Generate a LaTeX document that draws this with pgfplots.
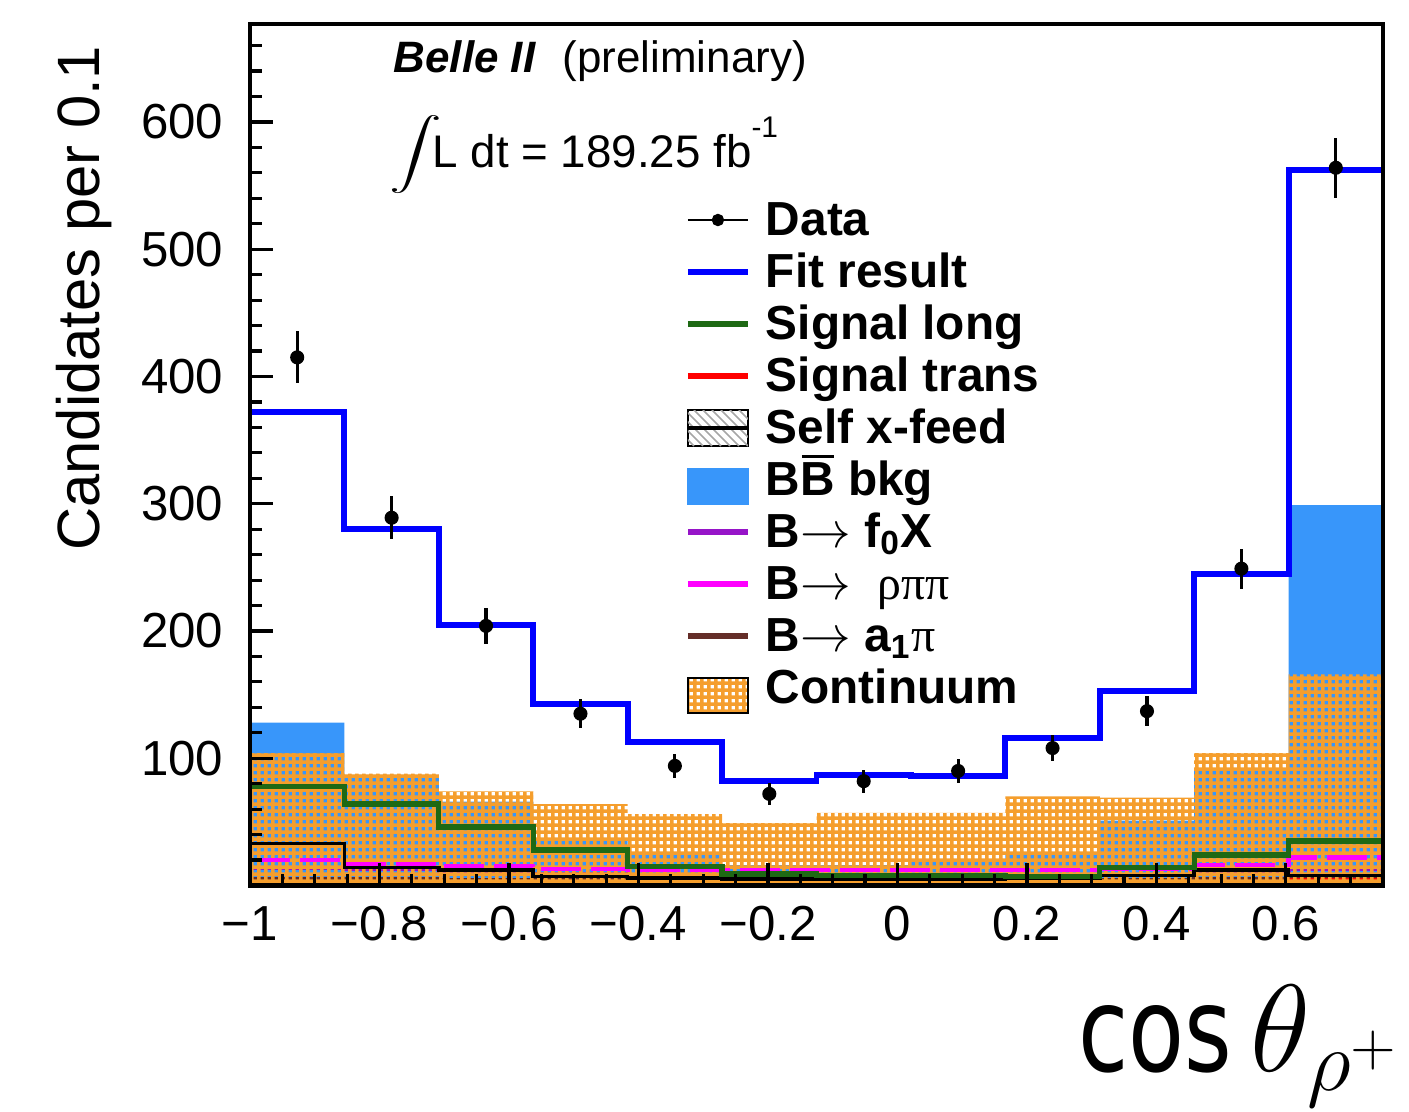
\documentclass[border=0pt]{standalone}
\usepackage{fontspec}
\setmainfont{Liberation Sans}
\newfontfamily\labelfont{DejaVu Sans}
\newfontfamily\greekfont{Liberation Serif}
\usepackage{graphicx}
\usepackage{pgfplots}
\usepackage{pgfplotstable}
\pgfplotsset{compat=1.18}
\usetikzlibrary{patterns}

\definecolor{fitblue}{RGB}{0,0,255}
\definecolor{bbblue}{RGB}{56,150,250}
\definecolor{contorange}{RGB}{245,158,45}
\definecolor{siggreen}{RGB}{30,105,20}
\definecolor{sigred}{RGB}{255,0,0}
\definecolor{fzeroviolet}{RGB}{150,20,200}
\definecolor{rhomagenta}{RGB}{255,0,255}
\definecolor{aonebrown}{RGB}{100,45,40}

% orange mesh with small square holes, used for the continuum component
\pgfdeclarepatternformonly{contmesh}{\pgfpointorigin}{\pgfqpoint{2.1pt}{2.1pt}}{\pgfqpoint{2.1pt}{2.1pt}}{%
  \pgfpathrectangle{\pgfpointorigin}{\pgfqpoint{2.1pt}{1.1pt}}%
  \pgfpathrectangle{\pgfqpoint{0pt}{1.1pt}}{\pgfqpoint{1.1pt}{1.0pt}}%
  \pgfusepath{fill}}

% histogram contents, one row per lower bin edge (last row closes the last bin)
\pgfplotstableread{
xlo       fit  cont  bb   siglong sigtrans xfeed f0x rhopipi a1pi
-1.000000 372  104   128  78      3        33    14  20      5
-0.854167 280  88    87   64      3        14    13  17      5
-0.708333 205  74    66   46      2        12    11  15      4
-0.562500 143  64    37   28      2        7     9   13      4
-0.416667 113  56    24   15      2        6     8   12      4
-0.270833 82   49    16   9       2        5     7   12      4
-0.125000 87   57    16   8       2        5     7   12      4
0.020833  86   57    19   8       2        5     7   12      4
0.166667  116  70    26   7       2        6     7   12      4
0.312500  153  69    51   14      2        8     8   13      4
0.458333  245  104   91   24      3        12    10  16      5
0.604167  562  166   299  35      4        8     13  22      6
0.750000  562  166   299  35      4        8     13  22      6
}\histo

% data counts at bin centres with Poisson errors
\pgfplotstableread{
x         n    e
-0.927083 415  20.4
-0.781250 289  17.0
-0.635417 204  14.3
-0.489583 135  11.6
-0.343750 94   9.7
-0.197917 72   8.5
-0.052083 82   9.1
0.093750  90   9.5
0.239583  108  10.4
0.385417  137  11.7
0.531250  249  15.8
0.677083  564  23.7
}\datapts

% B with a bar over it, bar drawn as a rule
\newcommand{\Bbar}{\makebox[0pt][l]{\hspace{0.4pt}\rule[3.75mm]{9.2pt}{0.25mm}}B}

\begin{document}
\begin{tikzpicture}
\useasboundingbox (0,0) rectangle (140.9mm,111.1mm);
\begin{axis}[
  at={(25.0mm,22.55mm)}, anchor=south west,
  scale only axis, width=113.3mm, height=86.15mm,
  xmin=-1, xmax=0.75, ymin=0, ymax=677,
  axis on top,
  axis line style={line width=1.3pt},
  xtick={-1,-0.8,-0.6,-0.4,-0.2,0,0.2,0.4,0.6},
  xticklabels={−1,−0.8,−0.6,−0.4,−0.2,0,0.2,0.4,0.6},
  minor xtick={-0.95,-0.9,-0.85,-0.75,-0.7,-0.65,-0.55,-0.5,-0.45,-0.35,-0.3,-0.25,-0.15,-0.1,-0.05,0.05,0.1,0.15,0.25,0.3,0.35,0.45,0.5,0.55,0.65,0.7},
  ytick={100,200,300,400,500,600},
  yticklabels={100,200,300,400,500,600},
  minor ytick={20,40,60,80,120,140,160,180,220,240,260,280,320,340,360,380,420,440,460,480,520,540,560,580,620,640,660},
  tick align=inside,
  xtick pos=bottom, ytick pos=left,
  major tick length=2.3mm, minor tick length=1.2mm,
  every tick/.style={black, line width=0.9pt},
  tick label style={font=\fontsize{14}{14}\selectfont},
  xticklabel style={inner sep=0pt, yshift=-2.0mm},
  yticklabel style={inner sep=0pt, xshift=-2.6mm},
  ylabel={Candidates per 0.1},
  ylabel style={font=\fontsize{17}{17}\selectfont, inner sep=0pt,
    at={(axis description cs:-0.1465,0.9756)}, anchor=east},
  xlabel={\resizebox{15.4mm}{6.6mm}{\labelfont cos}\hspace{1.8mm}\scalebox{1.42}{\fontsize{24}{24}\selectfont$\theta_{\rho^{+}}$}},
  xlabel style={inner sep=0pt,
    at={(axis description cs:1,0)}, anchor=base east, xshift=1.9mm, yshift=-18.6mm},
  legend style={
    at={(axis description cs:0.3839,0.798)}, anchor=north west,
    draw=none, fill=none, inner sep=0pt, outer sep=0pt, row sep=0pt,
    font=\fontsize{13.6}{13.6}\selectfont\bfseries,
    nodes={inner sep=0pt, text height=3.7mm, text depth=1.5mm},
    cells={anchor=base west},
    /tikz/every odd column/.append style={column sep=1.5mm},
  },
]
% B Bbar background, solid fill
\addplot[const plot, fill=bbblue, draw=none, forget plot] table[x=xlo, y=bb] {\histo} \closedcycle;
% small peaking components drawn beneath the continuum mesh
\addplot[const plot, aonebrown, line width=1.2pt, forget plot] table[x=xlo, y=a1pi] {\histo};
\addplot[const plot, sigred, line width=1.2pt, forget plot] table[x=xlo, y=sigtrans] {\histo};
\addplot[const plot, fzeroviolet, line width=1.2pt, forget plot] table[x=xlo, y=f0x] {\histo};
% continuum, orange mesh
\addplot[const plot, draw=none, pattern=contmesh, pattern color=contorange, forget plot] table[x=xlo, y=cont] {\histo} \closedcycle;
\addplot[const plot, rhomagenta, line width=1.2pt, dash pattern=on 4mm off 1mm, forget plot] table[x=xlo, y=rhopipi] {\histo};
\addplot[const plot, black, line width=1.0pt, forget plot] table[x=xlo, y=xfeed] {\histo};
\addplot[const plot, siggreen, line width=1.5pt, forget plot] table[x=xlo, y=siglong] {\histo};
% total fit
\addplot[const plot, fitblue, line width=1.7pt, forget plot] table[x=xlo, y=fit] {\histo};
% data
\addplot[only marks, mark=*, mark size=1.8pt, black, forget plot,
  error bars/.cd, y dir=both, y explicit, error mark=none,
  error bar style={line width=0.9pt, black}]
  table[x=x, y=n, y error=e] {\datapts};

\addlegendimage{legend image code/.code={
  \draw[black, line width=0.8pt] (0mm,1.5mm) -- (6mm,1.5mm);
  \fill[black] (3mm,1.5mm) circle (0.55mm);}}
\addlegendentry{Data}
\addlegendimage{legend image code/.code={
  \draw[fitblue, line width=1.7pt] (0mm,1.5mm) -- (6mm,1.5mm);}}
\addlegendentry{Fit result}
\addlegendimage{legend image code/.code={
  \draw[siggreen, line width=1.7pt] (0mm,1.5mm) -- (6mm,1.5mm);}}
\addlegendentry{Signal long}
\addlegendimage{legend image code/.code={
  \draw[sigred, line width=1.7pt] (0mm,1.5mm) -- (6mm,1.5mm);}}
\addlegendentry{Signal trans}
\addlegendimage{legend image code/.code={
  \begin{scope}
    \clip (0mm,-0.3mm) rectangle (6mm,3.3mm);
    \foreach \k in {0,...,9} {\draw[black!35, line width=0.45pt] (\k*0.9mm-3mm,3.3mm) -- ++(3.6mm,-3.6mm);}
  \end{scope}
  \draw[black, line width=0.9pt] (0mm,1.5mm) -- (6mm,1.5mm);}}
\addlegendentry{Self x-feed}
\addlegendimage{legend image code/.code={
  \fill[bbblue] (0mm,-0.9mm) rectangle (6mm,2.6mm);}}
\addlegendentry{B\Bbar\ bkg}
\addlegendimage{legend image code/.code={
  \draw[fzeroviolet, line width=1.7pt] (0mm,1.5mm) -- (6mm,1.5mm);}}
\addlegendentry{B$\rightarrow$ f\textsubscript{0}X}
\addlegendimage{legend image code/.code={
  \draw[rhomagenta, line width=1.7pt] (0mm,1.5mm) -- (6mm,1.5mm);}}
\addlegendentry{B$\rightarrow$ \ {\greekfont\mdseries ρππ}}
\addlegendimage{legend image code/.code={
  \draw[aonebrown, line width=1.7pt] (0mm,1.5mm) -- (6mm,1.5mm);}}
\addlegendentry{B$\rightarrow$ a\textsubscript{1}{\greekfont\mdseries π}}
\addlegendimage{legend image code/.code={
  \fill[pattern=contmesh, pattern color=contorange] (0mm,-1.0mm) rectangle (6mm,2.5mm);}}
\addlegendentry{Continuum}
\end{axis}

% experiment label and luminosity
\node[anchor=base west, inner sep=0pt, font=\fontsize{12.5}{12.5}\selectfont\bfseries\itshape] at (39.3mm,103.8mm) {Belle II};
\node[anchor=base west, inner sep=0pt, font=\fontsize{12.5}{12.5}\selectfont] at (56.2mm,103.8mm) {(preliminary)};
\node[inner sep=0pt] at (41.6mm,95.6mm) {\fontsize{15}{15}\selectfont\scalebox{1.5}[1]{$\displaystyle\int$}};
\node[anchor=base west, inner sep=0pt, font=\fontsize{13}{13}\selectfont] at (43.2mm,94.3mm) {L dt = 189.25 fb\raisebox{1.25ex}{\fontsize{8.5}{8.5}\selectfont -1}};
\end{tikzpicture}
\end{document}
